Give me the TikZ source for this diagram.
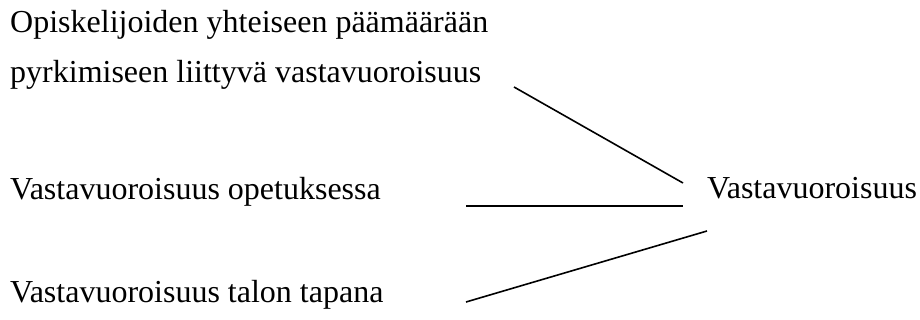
\documentclass[tikz,border=0pt]{standalone}
\usepackage{fontspec}
\setmainfont{Liberation Serif}
\begin{document}
\begin{tikzpicture}[x=1pt,y=-1pt,
  lbl/.style={inner sep=0pt,anchor=base west,font=\fontsize{32}{36}\selectfont},
  conn/.style={line width=1.6pt,black}]
\useasboundingbox (0,0) rectangle (920,320);
\node[lbl] (t1) at (10,33) {Opiskelijoiden yhteiseen päämäärään};
\node[lbl] (t2) at (10,83) {pyrkimiseen liittyvä vastavuoroisuus};
\node[lbl] (t3) at (10,200) {Vastavuoroisuus opetuksessa};
\node[lbl] (t4) at (10,302) {Vastavuoroisuus talon tapana};
\node[lbl] (v) at (707,199) {Vastavuoroisuus};
\coordinate (a1) at (514,87);
\coordinate (a2) at (683,183);
\coordinate (b1) at (466,206);
\coordinate (b2) at (683,206);
\coordinate (c1) at (707,231);
\coordinate (c2) at (466,302);
\draw[conn] (a1) -- (a2);
\draw[conn] (b1) -- (b2);
\draw[conn] (c1) -- (c2);
\end{tikzpicture}
\end{document}
